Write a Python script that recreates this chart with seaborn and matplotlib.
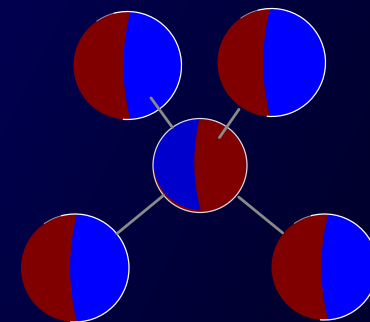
import numpy as np
import pandas as pd
import matplotlib
matplotlib.use("Agg")
import matplotlib.pyplot as plt
from matplotlib.patches import Circle, Polygon, Arc
import seaborn as sns

# ---- data ----
node_names = ["hub", "top_left", "top_right", "bottom_left", "bottom_right"]
node_x = [200.0, 127.5, 271.5, 75.0, 324.5]
node_y = [165.5, 65.5, 62.5, 268.0, 267.0]
node_r = [47.0, 54.0, 54.0, 54.0, 53.0]
red_share = [55.0, 48.0, 43.0, 47.0, 49.0]
blue_share = [45.0, 52.0, 57.0, 53.0, 51.0]
edge_source = ["top_left", "top_right", "bottom_left", "bottom_right"]
edge_target = ["hub", "hub", "hub", "hub"]

# ---- style ----
sns.set_theme(style="dark")
RED = "#800000"
BLUE = "#0000FF"
HUB_BLUE = "#0000CC"
EDGE_COL = "#8a8a8a"
# trims (pixels) for edge ends: (from source centre, from target centre)
edge_trim = [(40, 47), (57, 34), (54, 47), (54, 50)]
bulge_ratio = 0.13

fig = plt.figure(figsize=(3.7, 3.22), dpi=100)
ax = fig.add_axes([0, 0, 1, 1])
ax.axis("off")

# background gradient
gx = np.linspace(0, 1, 200)
gy = np.linspace(0, 1, 200)
GX, GY = np.meshgrid(gx, gy)
t = np.clip(0.8 * GX + 0.35 * GY, 0, 1)
c0 = np.array([0x00, 0x00, 0x50]) / 255
c1 = np.array([0x00, 0x00, 0x2E]) / 255
img = c0[None, None, :] * (1 - t[..., None]) + c1[None, None, :] * t[..., None]
ax.imshow(img, extent=[0, 370, 322, 0], aspect="auto", zorder=0)

pos = {n: (x, y, r) for n, x, y, r in zip(node_names, node_x, node_y, node_r)}


def divider(ys, cy, r, x0, b):
    dy = np.clip((ys - cy) / r, -1, 1)
    return x0 - b * (1 - dy ** 2)


def right_fraction(cx, cy, r, x0, b):
    ys = np.linspace(cy - r, cy + r, 801)
    dy = (ys - cy) / r
    w = r * np.sqrt(np.clip(1 - dy ** 2, 0, 1))
    left = np.maximum(divider(ys, cy, r, x0, b), cx - w)
    length = np.clip(cx + w - left, 0, None)
    return np.trapezoid(length, ys) / (np.pi * r * r)


def solve_x0(cx, cy, r, frac, b):
    lo, hi = cx - r, cx + r
    for _ in range(50):
        mid = 0.5 * (lo + hi)
        if right_fraction(cx, cy, r, mid, b) > frac:
            lo = mid
        else:
            hi = mid
    return 0.5 * (lo + hi)


def draw_pie(i):
    cx, cy, r = node_x[i], node_y[i], node_r[i]
    tot = red_share[i] + blue_share[i]
    b = bulge_ratio * r
    hub = node_names[i] == "hub"
    right_frac = (red_share[i] if hub else blue_share[i]) / tot
    x0 = solve_x0(cx, cy, r, right_frac, b)
    ax.add_patch(Circle((cx, cy), r, facecolor=RED, edgecolor="none", zorder=2))
    clip = Circle((cx, cy), r, transform=ax.transData)
    ys = np.linspace(cy - r - 2, cy + r + 2, 200)
    if not hub:
        div = np.column_stack([divider(ys, cy, r, x0, b), ys])
        pts = np.vstack([div[::-1], [[cx + r + 5, cy - r - 5], [cx + r + 5, cy + r + 5]]])
        poly = Polygon(pts, closed=True, facecolor=BLUE, edgecolor="none", zorder=3)
        poly.set_clip_path(clip)
        ax.add_patch(poly)
        ax.add_patch(Arc((cx, cy), 2 * r, 2 * r, theta1=-105, theta2=95,
                         color="white", lw=0.9, zorder=5))
        ax.add_patch(Arc((cx, cy), 2 * r, 2 * r, theta1=-125, theta2=-105,
                         color="#c8c8d8", lw=0.7, zorder=5, alpha=0.7))
    else:
        # blue part on the left: inner disc shifted up, leaving a red crescent
        sx, sy, r2 = cx + 1.5, cy - 3.5, r + 1.0
        ys = np.linspace(cy - r, cy + r, 300)
        dy = (ys - cy) / r
        wb = r * np.sqrt(np.clip(1 - dy ** 2, 0, 1))
        wi = np.sqrt(np.clip(r2 ** 2 - (ys - sy) ** 2, 0, None))
        left = np.maximum(cx - wb, sx - wi)
        right = divider(ys, sy, r, x0, b)
        ok = (right > left) & ((ys - sy) ** 2 < r2 ** 2)
        ys_o, left_o, right_o = ys[ok], left[ok], right[ok]
        pts = np.vstack([np.column_stack([left_o, ys_o]),
                         np.column_stack([right_o, ys_o])[::-1]])
        poly = Polygon(pts, closed=True, facecolor=HUB_BLUE, edgecolor="none", zorder=3)
        poly.set_clip_path(clip)
        ax.add_patch(poly)
        ax.add_patch(Circle((cx, cy), r, facecolor="none", edgecolor="#d8d8e0",
                            lw=0.9, zorder=5))


for i in range(len(node_names)):
    draw_pie(i)

# edges via seaborn
rows = []
for k, (s, tname) in enumerate(zip(edge_source, edge_target)):
    sx, sy, _ = pos[s]
    tx, ty, _ = pos[tname]
    d = np.hypot(tx - sx, ty - sy)
    ux, uy = (tx - sx) / d, (ty - sy) / d
    a, bb = edge_trim[k]
    rows.append(dict(edge=k, x=sx + ux * a, y=sy + uy * a))
    rows.append(dict(edge=k, x=tx - ux * bb, y=ty - uy * bb))
edges = pd.DataFrame(rows)
sns.lineplot(data=edges, x="x", y="y", units="edge", estimator=None,
             color=EDGE_COL, lw=2, ax=ax, sort=False, zorder=6, legend=False)
ax.set_xlim(0, 370)
ax.set_ylim(322, 0)
ax.axis("off")

fig.savefig("out.png", dpi=100)
